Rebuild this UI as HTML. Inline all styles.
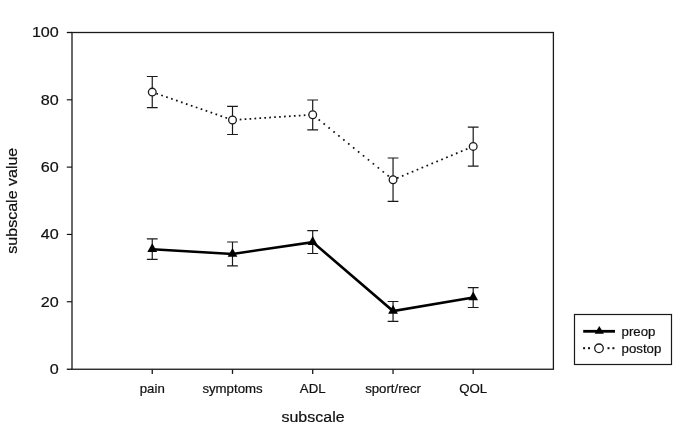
<!DOCTYPE html><html><head><meta charset="utf-8"><title>subscale chart</title>
<style>html,body{margin:0;padding:0;background:#fff}svg{display:block}text{font-family:"Liberation Sans",Arial,Helvetica,sans-serif;fill:#111;stroke:#111;stroke-width:0.2px}</style></head><body>
<svg width="685" height="431" viewBox="0 0 685 431">
<rect width="685" height="431" fill="#fff"/>
<rect x="72.0" y="32.5" width="481.40" height="336.75" fill="none" stroke="#1a1a1a" stroke-width="1.3"/>
<line x1="66.8" y1="369.25" x2="72.0" y2="369.25" stroke="#111" stroke-width="1.3"/>
<text transform="translate(58.80,374.15) scale(1.09,1)" font-size="14.8" text-anchor="end">0</text>
<line x1="66.8" y1="301.74" x2="72.0" y2="301.74" stroke="#111" stroke-width="1.15"/>
<text transform="translate(58.80,306.64) scale(1.09,1)" font-size="14.8" text-anchor="end">20</text>
<line x1="66.8" y1="234.43" x2="72.0" y2="234.43" stroke="#111" stroke-width="1.15"/>
<text transform="translate(58.80,239.33) scale(1.09,1)" font-size="14.8" text-anchor="end">40</text>
<line x1="66.8" y1="167.12" x2="72.0" y2="167.12" stroke="#111" stroke-width="1.15"/>
<text transform="translate(58.80,172.02) scale(1.09,1)" font-size="14.8" text-anchor="end">60</text>
<line x1="66.8" y1="99.81" x2="72.0" y2="99.81" stroke="#111" stroke-width="1.15"/>
<text transform="translate(58.80,104.71) scale(1.09,1)" font-size="14.8" text-anchor="end">80</text>
<line x1="66.8" y1="32.50" x2="72.0" y2="32.50" stroke="#111" stroke-width="1.3"/>
<text transform="translate(58.80,37.40) scale(1.09,1)" font-size="14.8" text-anchor="end">100</text>
<line x1="152.25" y1="369.25" x2="152.25" y2="373.95" stroke="#1a1a1a" stroke-width="1.3"/>
<text transform="translate(152.25,392.60) scale(1.09,1)" font-size="12.15" text-anchor="middle">pain</text>
<line x1="232.5" y1="369.25" x2="232.5" y2="373.95" stroke="#1a1a1a" stroke-width="1.3"/>
<text transform="translate(232.50,392.60) scale(1.09,1)" font-size="12.15" text-anchor="middle">symptoms</text>
<line x1="312.7" y1="369.25" x2="312.7" y2="373.95" stroke="#1a1a1a" stroke-width="1.3"/>
<text transform="translate(312.70,392.60) scale(1.09,1)" font-size="12.15" text-anchor="middle">ADL</text>
<line x1="393.05" y1="369.25" x2="393.05" y2="373.95" stroke="#1a1a1a" stroke-width="1.3"/>
<text transform="translate(393.05,392.60) scale(1.09,1)" font-size="12.15" text-anchor="middle">sport/recr</text>
<line x1="473.2" y1="369.25" x2="473.2" y2="373.95" stroke="#1a1a1a" stroke-width="1.3"/>
<text transform="translate(473.20,392.60) scale(1.09,1)" font-size="12.15" text-anchor="middle">QOL</text>
<text transform="translate(313.00,421.60) scale(1.09,1)" font-size="14.7" text-anchor="middle">subscale</text>
<text transform="translate(16.90,200.70) rotate(-90) scale(1.09,1)" font-size="14.7" text-anchor="middle">subscale value</text>
<line x1="152.25" y1="92.1" x2="232.5" y2="120.0" stroke="#111" stroke-width="1.75" stroke-dasharray="1.7 3.524" stroke-dashoffset="0.933"/>
<line x1="232.5" y1="120.0" x2="312.7" y2="114.7" stroke="#111" stroke-width="1.75" stroke-dasharray="1.7 3.236" stroke-dashoffset="2.654"/>
<line x1="312.7" y1="114.7" x2="393.05" y2="179.8" stroke="#111" stroke-width="1.75" stroke-dasharray="1.7 4.632" stroke-dashoffset="5.046"/>
<line x1="393.05" y1="179.8" x2="473.2" y2="146.4" stroke="#111" stroke-width="1.75" stroke-dasharray="1.7 3.619" stroke-dashoffset="0.991"/>
<polyline points="152.25,249.3 232.5,254.0 312.7,242.1 393.05,311.0 473.2,297.5" fill="none" stroke="#000" stroke-width="2.6" stroke-linejoin="miter"/>
<path d="M152.25,76.5V107.6M146.85,76.5H157.65M146.85,107.6H157.65" fill="none" stroke="#1a1a1a" stroke-width="1.2"/>
<circle cx="152.25" cy="92.1" r="3.85" fill="#fff" stroke="#1a1a1a" stroke-width="1.3"/>
<path d="M232.5,106.4V134.5M227.1,106.4H237.9M227.1,134.5H237.9" fill="none" stroke="#1a1a1a" stroke-width="1.2"/>
<circle cx="232.5" cy="120.0" r="3.85" fill="#fff" stroke="#1a1a1a" stroke-width="1.3"/>
<path d="M312.7,100.0V129.9M307.3,100.0H318.09999999999997M307.3,129.9H318.09999999999997" fill="none" stroke="#1a1a1a" stroke-width="1.2"/>
<circle cx="312.7" cy="114.7" r="3.85" fill="#fff" stroke="#1a1a1a" stroke-width="1.3"/>
<path d="M393.05,158.0V201.4M387.65000000000003,158.0H398.45M387.65000000000003,201.4H398.45" fill="none" stroke="#1a1a1a" stroke-width="1.2"/>
<circle cx="393.05" cy="179.8" r="3.85" fill="#fff" stroke="#1a1a1a" stroke-width="1.3"/>
<path d="M473.2,127.1V166.1M467.8,127.1H478.59999999999997M467.8,166.1H478.59999999999997" fill="none" stroke="#1a1a1a" stroke-width="1.2"/>
<circle cx="473.2" cy="146.4" r="3.85" fill="#fff" stroke="#1a1a1a" stroke-width="1.3"/>
<path d="M152.25,238.8V259.3M146.85,238.8H157.65M146.85,259.3H157.65" fill="none" stroke="#1a1a1a" stroke-width="1.2"/>
<path d="M152.25,243.30L157.15,252.10H147.35Z" fill="#000"/>
<path d="M232.5,242.0V265.8M227.1,242.0H237.9M227.1,265.8H237.9" fill="none" stroke="#1a1a1a" stroke-width="1.2"/>
<path d="M232.5,248.00L237.40,256.80H227.60Z" fill="#000"/>
<path d="M312.7,230.7V253.5M307.3,230.7H318.09999999999997M307.3,253.5H318.09999999999997" fill="none" stroke="#1a1a1a" stroke-width="1.2"/>
<path d="M312.7,236.10L317.60,244.90H307.80Z" fill="#000"/>
<path d="M393.05,301.5V321.3M387.65000000000003,301.5H398.45M387.65000000000003,321.3H398.45" fill="none" stroke="#1a1a1a" stroke-width="1.2"/>
<path d="M393.05,305.00L397.95,313.80H388.15Z" fill="#000"/>
<path d="M473.2,287.6V307.5M467.8,287.6H478.59999999999997M467.8,307.5H478.59999999999997" fill="none" stroke="#1a1a1a" stroke-width="1.2"/>
<path d="M473.2,291.50L478.10,300.30H468.30Z" fill="#000"/>
<rect x="574.5" y="314.5" width="97" height="50" fill="#fff" stroke="#1a1a1a" stroke-width="1.2"/>
<line x1="583.2" y1="331.3" x2="615" y2="331.3" stroke="#000" stroke-width="2.8"/>
<path d="M599.3,325.9L603.9,333.7H594.7Z" fill="#000"/>
<rect x="583.10" y="347.20" width="2" height="2" fill="#111"/>
<rect x="588.00" y="347.20" width="2" height="2" fill="#111"/>
<rect x="607.50" y="347.20" width="2" height="2" fill="#111"/>
<rect x="612.40" y="347.20" width="2" height="2" fill="#111"/>
<circle cx="599.0" cy="348.3" r="4.3" fill="#fff" stroke="#1a1a1a" stroke-width="1.3"/>
<text transform="translate(621.60,335.50) scale(1.09,1)" font-size="12.15" text-anchor="start">preop</text>
<text transform="translate(621.60,352.50) scale(1.09,1)" font-size="12.15" text-anchor="start">postop</text>
</svg></body></html>
